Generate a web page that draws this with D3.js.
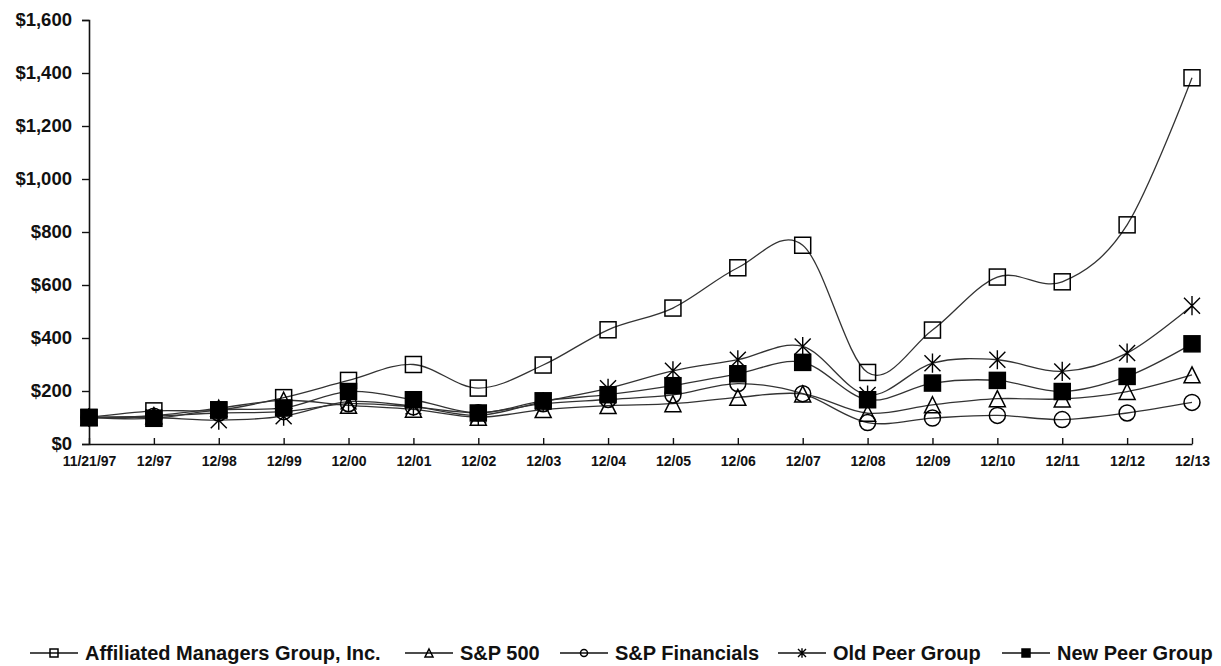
<!DOCTYPE html>
<html>
<head>
<meta charset="utf-8">
<script src="https://cdn.jsdelivr.net/npm/d3@7"></script>
<style>
  body { margin: 0; background: #fff; }
  svg text { font-family: "Liberation Sans", Arial, sans-serif; font-weight: bold; fill: #111; }
  .legend text { font-family: "Liberation Sans Narrow", "Arial Narrow", "Liberation Sans", sans-serif; }
</style>
</head>
<body>
<svg width="1221" height="666"></svg>
<script>
// chart values
var categories = ["11/21/97","12/97","12/98","12/99","12/00","12/01","12/02","12/03","12/04","12/05","12/06","12/07","12/08","12/09","12/10","12/11","12/12","12/13"];
var amg     = [100,125,128,175,240,300,211,298,431,513,665,750,270,430,630,612,827,1382];
var sp500   = [100,107,135,165,146,131,101,130,145,152,176,189,116,148,171,170,198,261];
var spFin   = [100,105,117,122,152,140,118,152,168,185,228,190,81,98,108,92,117,157];
var oldPeer = [100,100,90,105,160,142,108,160,210,276,318,368,185,305,318,274,343,522];
var newPeer = [100,97,129,136,198,167,117,163,186,220,265,308,167,230,240,198,255,378];
var yTicks  = [0,200,400,600,800,1000,1200,1400,1600];

var seriesNames = ["Affiliated Managers Group, Inc.","S&P 500","S&P Financials","Old Peer Group","New Peer Group"];
var seriesData = [amg, sp500, spFin, oldPeer, newPeer];
var markers = ["square","triangle","circle","star","filled"];

function main(){
    var svg = d3.select("svg");

    var x = d3.scalePoint().domain(categories).range([89,1192]);
    var y = d3.scaleLinear().domain([0,1600]).range([444,20]);

    // y axis
    var gy = svg.append("g").attr("transform","translate(89,0)")
        .call(d3.axisLeft(y).tickValues(yTicks).tickSize(7).tickPadding(10)
            .tickFormat(function(d){ return "$" + d3.format(",")(d); }));
    gy.selectAll("text").attr("font-size","18.5px");
    gy.select(".domain").attr("stroke","#111").attr("stroke-width",1.6);
    gy.selectAll(".tick line").attr("stroke","#111").attr("stroke-width",1.4);

    // x axis
    var gx = svg.append("g").attr("transform","translate(0,444)")
        .call(d3.axisBottom(x).tickSizeInner(-6).tickSizeOuter(0));
    gx.selectAll("text").attr("font-size","14px").attr("y",12);
    gx.select(".domain").attr("stroke","#111").attr("stroke-width",1.6);
    gx.selectAll(".tick line").attr("stroke","#111").attr("stroke-width",1.4);

    var line = d3.line()
        .x(function(d,i){ return x(categories[i]); })
        .y(function(d){ return y(d); })
        .curve(d3.curveCatmullRom.alpha(0));

    seriesData.forEach(function(s){
        svg.append("path").datum(s)
            .attr("fill","none")
            .attr("stroke","#333")
            .attr("stroke-width",1.3)
            .attr("d",line);
    });

    function drawMarker(g, type, cx, cy, r){
        if(type=="square" || type=="filled"){
            g.append("rect").attr("x",cx-r).attr("y",cy-r).attr("width",2*r).attr("height",2*r)
                .attr("fill", type=="filled" ? "#000" : "none").attr("stroke","#000").attr("stroke-width",1.5);
        } else if(type=="triangle"){
            g.append("path").attr("d","M"+cx+","+(cy-r)+"L"+(cx+r)+","+(cy+r)+"L"+(cx-r)+","+(cy+r)+"Z")
                .attr("fill","none").attr("stroke","#000").attr("stroke-width",1.5);
        } else if(type=="circle"){
            g.append("circle").attr("cx",cx).attr("cy",cy).attr("r",r)
                .attr("fill","none").attr("stroke","#000").attr("stroke-width",1.5);
        } else {
            g.append("path").attr("d","M"+(cx-r)+","+(cy-r)+"L"+(cx+r)+","+(cy+r)+"M"+(cx+r)+","+(cy-r)+"L"+(cx-r)+","+(cy+r)+"M"+cx+","+(cy-r*1.2)+"L"+cx+","+(cy+r*1.2))
                .attr("fill","none").attr("stroke","#000").attr("stroke-width",1.4);
        }
    }

    seriesData.forEach(function(s,k){
        var g = svg.append("g");
        s.forEach(function(v,i){
            drawMarker(g, markers[k], x(categories[i]), y(v), 8);
        });
    });

    // legend
    var legendX = [30,405,560,778,1002];
    var lg = svg.append("g").attr("class","legend");
    seriesNames.forEach(function(name,k){
        var lx = legendX[k];
        lg.append("line").attr("x1",lx).attr("x2",lx+48).attr("y1",653).attr("y2",653)
            .attr("stroke","#111").attr("stroke-width",1.5);
        drawMarker(lg, markers[k], lx+24, 653, markers[k]=="circle" ? 3.5 : 4);
        lg.append("text").attr("x",lx+55).attr("y",660).attr("font-size","20px").text(name);
    });
}
main();
</script>
</body>
</html>
